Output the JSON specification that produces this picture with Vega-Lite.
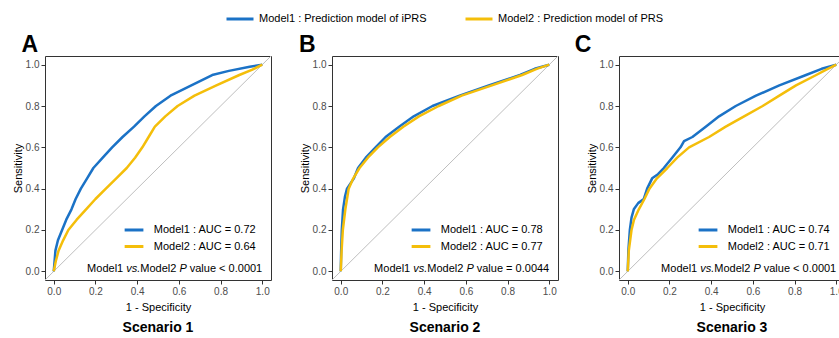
{
"$schema": "https://vega.github.io/schema/vega-lite/v6.json",
"padding": {"left": 11, "top": 4, "right": 5, "bottom": 5},
"data": {"values": [
{"kind":"panel","s":"Scenario 1","letter":"A","pv":"value < 0.0001"},
{"kind":"panel","s":"Scenario 2","letter":"B","pv":"value = 0.0044"},
{"kind":"panel","s":"Scenario 3","letter":"C","pv":"value < 0.0001"},
{"kind":"auc","s":"Scenario 1","m":"Model1","label":"Model1 : AUC = 0.72"},
{"kind":"auc","s":"Scenario 1","m":"Model2","label":"Model2 : AUC = 0.64"},
{"kind":"auc","s":"Scenario 2","m":"Model1","label":"Model1 : AUC = 0.78"},
{"kind":"auc","s":"Scenario 2","m":"Model2","label":"Model2 : AUC = 0.77"},
{"kind":"auc","s":"Scenario 3","m":"Model1","label":"Model1 : AUC = 0.74"},
{"kind":"auc","s":"Scenario 3","m":"Model2","label":"Model2 : AUC = 0.71"},
{"kind":"roc","s":"Scenario 1","m":"Model1","x":0,"y":0},
{"kind":"roc","s":"Scenario 1","m":"Model1","x":0.004,"y":0.05},
{"kind":"roc","s":"Scenario 1","m":"Model1","x":0.008,"y":0.1},
{"kind":"roc","s":"Scenario 1","m":"Model1","x":0.02,"y":0.15},
{"kind":"roc","s":"Scenario 1","m":"Model1","x":0.04,"y":0.2},
{"kind":"roc","s":"Scenario 1","m":"Model1","x":0.06,"y":0.25},
{"kind":"roc","s":"Scenario 1","m":"Model1","x":0.085,"y":0.3},
{"kind":"roc","s":"Scenario 1","m":"Model1","x":0.105,"y":0.35},
{"kind":"roc","s":"Scenario 1","m":"Model1","x":0.13,"y":0.4},
{"kind":"roc","s":"Scenario 1","m":"Model1","x":0.16,"y":0.45},
{"kind":"roc","s":"Scenario 1","m":"Model1","x":0.19,"y":0.5},
{"kind":"roc","s":"Scenario 1","m":"Model1","x":0.235,"y":0.55},
{"kind":"roc","s":"Scenario 1","m":"Model1","x":0.28,"y":0.6},
{"kind":"roc","s":"Scenario 1","m":"Model1","x":0.33,"y":0.65},
{"kind":"roc","s":"Scenario 1","m":"Model1","x":0.385,"y":0.7},
{"kind":"roc","s":"Scenario 1","m":"Model1","x":0.435,"y":0.75},
{"kind":"roc","s":"Scenario 1","m":"Model1","x":0.49,"y":0.8},
{"kind":"roc","s":"Scenario 1","m":"Model1","x":0.56,"y":0.85},
{"kind":"roc","s":"Scenario 1","m":"Model1","x":0.66,"y":0.9},
{"kind":"roc","s":"Scenario 1","m":"Model1","x":0.76,"y":0.95},
{"kind":"roc","s":"Scenario 1","m":"Model1","x":0.84,"y":0.97},
{"kind":"roc","s":"Scenario 1","m":"Model1","x":0.94,"y":0.99},
{"kind":"roc","s":"Scenario 1","m":"Model1","x":1,"y":1},
{"kind":"roc","s":"Scenario 1","m":"Model2","x":0,"y":0},
{"kind":"roc","s":"Scenario 1","m":"Model2","x":0.01,"y":0.05},
{"kind":"roc","s":"Scenario 1","m":"Model2","x":0.023,"y":0.1},
{"kind":"roc","s":"Scenario 1","m":"Model2","x":0.045,"y":0.15},
{"kind":"roc","s":"Scenario 1","m":"Model2","x":0.07,"y":0.2},
{"kind":"roc","s":"Scenario 1","m":"Model2","x":0.11,"y":0.25},
{"kind":"roc","s":"Scenario 1","m":"Model2","x":0.155,"y":0.3},
{"kind":"roc","s":"Scenario 1","m":"Model2","x":0.2,"y":0.35},
{"kind":"roc","s":"Scenario 1","m":"Model2","x":0.25,"y":0.4},
{"kind":"roc","s":"Scenario 1","m":"Model2","x":0.3,"y":0.45},
{"kind":"roc","s":"Scenario 1","m":"Model2","x":0.35,"y":0.5},
{"kind":"roc","s":"Scenario 1","m":"Model2","x":0.39,"y":0.55},
{"kind":"roc","s":"Scenario 1","m":"Model2","x":0.425,"y":0.6},
{"kind":"roc","s":"Scenario 1","m":"Model2","x":0.455,"y":0.65},
{"kind":"roc","s":"Scenario 1","m":"Model2","x":0.485,"y":0.7},
{"kind":"roc","s":"Scenario 1","m":"Model2","x":0.535,"y":0.75},
{"kind":"roc","s":"Scenario 1","m":"Model2","x":0.594,"y":0.8},
{"kind":"roc","s":"Scenario 1","m":"Model2","x":0.675,"y":0.85},
{"kind":"roc","s":"Scenario 1","m":"Model2","x":0.78,"y":0.9},
{"kind":"roc","s":"Scenario 1","m":"Model2","x":0.89,"y":0.95},
{"kind":"roc","s":"Scenario 1","m":"Model2","x":0.95,"y":0.975},
{"kind":"roc","s":"Scenario 1","m":"Model2","x":1,"y":1},
{"kind":"roc","s":"Scenario 2","m":"Model1","x":0,"y":0},
{"kind":"roc","s":"Scenario 2","m":"Model1","x":0.002,"y":0.1},
{"kind":"roc","s":"Scenario 2","m":"Model1","x":0.005,"y":0.2},
{"kind":"roc","s":"Scenario 2","m":"Model1","x":0.011,"y":0.3},
{"kind":"roc","s":"Scenario 2","m":"Model1","x":0.02,"y":0.36},
{"kind":"roc","s":"Scenario 2","m":"Model1","x":0.03,"y":0.4},
{"kind":"roc","s":"Scenario 2","m":"Model1","x":0.063,"y":0.45},
{"kind":"roc","s":"Scenario 2","m":"Model1","x":0.083,"y":0.5},
{"kind":"roc","s":"Scenario 2","m":"Model1","x":0.12,"y":0.55},
{"kind":"roc","s":"Scenario 2","m":"Model1","x":0.167,"y":0.6},
{"kind":"roc","s":"Scenario 2","m":"Model1","x":0.215,"y":0.65},
{"kind":"roc","s":"Scenario 2","m":"Model1","x":0.28,"y":0.7},
{"kind":"roc","s":"Scenario 2","m":"Model1","x":0.35,"y":0.75},
{"kind":"roc","s":"Scenario 2","m":"Model1","x":0.44,"y":0.8},
{"kind":"roc","s":"Scenario 2","m":"Model1","x":0.57,"y":0.85},
{"kind":"roc","s":"Scenario 2","m":"Model1","x":0.71,"y":0.9},
{"kind":"roc","s":"Scenario 2","m":"Model1","x":0.86,"y":0.95},
{"kind":"roc","s":"Scenario 2","m":"Model1","x":0.93,"y":0.98},
{"kind":"roc","s":"Scenario 2","m":"Model1","x":1,"y":1},
{"kind":"roc","s":"Scenario 2","m":"Model2","x":0,"y":0},
{"kind":"roc","s":"Scenario 2","m":"Model2","x":0.004,"y":0.1},
{"kind":"roc","s":"Scenario 2","m":"Model2","x":0.01,"y":0.2},
{"kind":"roc","s":"Scenario 2","m":"Model2","x":0.022,"y":0.3},
{"kind":"roc","s":"Scenario 2","m":"Model2","x":0.03,"y":0.35},
{"kind":"roc","s":"Scenario 2","m":"Model2","x":0.038,"y":0.4},
{"kind":"roc","s":"Scenario 2","m":"Model2","x":0.06,"y":0.45},
{"kind":"roc","s":"Scenario 2","m":"Model2","x":0.09,"y":0.5},
{"kind":"roc","s":"Scenario 2","m":"Model2","x":0.13,"y":0.55},
{"kind":"roc","s":"Scenario 2","m":"Model2","x":0.178,"y":0.6},
{"kind":"roc","s":"Scenario 2","m":"Model2","x":0.235,"y":0.65},
{"kind":"roc","s":"Scenario 2","m":"Model2","x":0.3,"y":0.7},
{"kind":"roc","s":"Scenario 2","m":"Model2","x":0.375,"y":0.75},
{"kind":"roc","s":"Scenario 2","m":"Model2","x":0.47,"y":0.8},
{"kind":"roc","s":"Scenario 2","m":"Model2","x":0.58,"y":0.85},
{"kind":"roc","s":"Scenario 2","m":"Model2","x":0.725,"y":0.9},
{"kind":"roc","s":"Scenario 2","m":"Model2","x":0.87,"y":0.95},
{"kind":"roc","s":"Scenario 2","m":"Model2","x":0.94,"y":0.98},
{"kind":"roc","s":"Scenario 2","m":"Model2","x":1,"y":1},
{"kind":"roc","s":"Scenario 3","m":"Model1","x":0,"y":0},
{"kind":"roc","s":"Scenario 3","m":"Model1","x":0.003,"y":0.1},
{"kind":"roc","s":"Scenario 3","m":"Model1","x":0.01,"y":0.2},
{"kind":"roc","s":"Scenario 3","m":"Model1","x":0.018,"y":0.26},
{"kind":"roc","s":"Scenario 3","m":"Model1","x":0.029,"y":0.3},
{"kind":"roc","s":"Scenario 3","m":"Model1","x":0.05,"y":0.33},
{"kind":"roc","s":"Scenario 3","m":"Model1","x":0.077,"y":0.35},
{"kind":"roc","s":"Scenario 3","m":"Model1","x":0.093,"y":0.4},
{"kind":"roc","s":"Scenario 3","m":"Model1","x":0.117,"y":0.45},
{"kind":"roc","s":"Scenario 3","m":"Model1","x":0.145,"y":0.47},
{"kind":"roc","s":"Scenario 3","m":"Model1","x":0.173,"y":0.5},
{"kind":"roc","s":"Scenario 3","m":"Model1","x":0.213,"y":0.55},
{"kind":"roc","s":"Scenario 3","m":"Model1","x":0.253,"y":0.6},
{"kind":"roc","s":"Scenario 3","m":"Model1","x":0.27,"y":0.63},
{"kind":"roc","s":"Scenario 3","m":"Model1","x":0.31,"y":0.65},
{"kind":"roc","s":"Scenario 3","m":"Model1","x":0.374,"y":0.7},
{"kind":"roc","s":"Scenario 3","m":"Model1","x":0.438,"y":0.75},
{"kind":"roc","s":"Scenario 3","m":"Model1","x":0.518,"y":0.8},
{"kind":"roc","s":"Scenario 3","m":"Model1","x":0.615,"y":0.85},
{"kind":"roc","s":"Scenario 3","m":"Model1","x":0.727,"y":0.9},
{"kind":"roc","s":"Scenario 3","m":"Model1","x":0.855,"y":0.95},
{"kind":"roc","s":"Scenario 3","m":"Model1","x":0.93,"y":0.98},
{"kind":"roc","s":"Scenario 3","m":"Model1","x":1,"y":1},
{"kind":"roc","s":"Scenario 3","m":"Model2","x":0,"y":0},
{"kind":"roc","s":"Scenario 3","m":"Model2","x":0.005,"y":0.1},
{"kind":"roc","s":"Scenario 3","m":"Model2","x":0.018,"y":0.2},
{"kind":"roc","s":"Scenario 3","m":"Model2","x":0.03,"y":0.25},
{"kind":"roc","s":"Scenario 3","m":"Model2","x":0.053,"y":0.3},
{"kind":"roc","s":"Scenario 3","m":"Model2","x":0.08,"y":0.35},
{"kind":"roc","s":"Scenario 3","m":"Model2","x":0.104,"y":0.4},
{"kind":"roc","s":"Scenario 3","m":"Model2","x":0.14,"y":0.45},
{"kind":"roc","s":"Scenario 3","m":"Model2","x":0.19,"y":0.5},
{"kind":"roc","s":"Scenario 3","m":"Model2","x":0.237,"y":0.55},
{"kind":"roc","s":"Scenario 3","m":"Model2","x":0.294,"y":0.6},
{"kind":"roc","s":"Scenario 3","m":"Model2","x":0.39,"y":0.65},
{"kind":"roc","s":"Scenario 3","m":"Model2","x":0.47,"y":0.7},
{"kind":"roc","s":"Scenario 3","m":"Model2","x":0.558,"y":0.75},
{"kind":"roc","s":"Scenario 3","m":"Model2","x":0.647,"y":0.8},
{"kind":"roc","s":"Scenario 3","m":"Model2","x":0.727,"y":0.85},
{"kind":"roc","s":"Scenario 3","m":"Model2","x":0.807,"y":0.9},
{"kind":"roc","s":"Scenario 3","m":"Model2","x":0.904,"y":0.95},
{"kind":"roc","s":"Scenario 3","m":"Model2","x":0.95,"y":0.975},
{"kind":"roc","s":"Scenario 3","m":"Model2","x":1,"y":1}
]},
"facet": {"column": {"field": "s", "type": "nominal", "header": {"title": null, "labelOrient": "bottom", "labelFontSize": 14, "labelFontWeight": "bold", "labelFont": "Liberation Sans", "labelColor": "#000000", "labelPadding": 41}}},
"spacing": 61,
"bounds": "flush",
"resolve": {"axis": {"y": "independent", "x": "independent"}},
"spec": {
 "width": 226,
 "height": 224,
 "layer": [
  {"transform": [{"filter": "datum.kind === 'panel'"}],
   "mark": {"type": "rule", "color": "#BEBEBE", "strokeWidth": 1},
   "encoding": {
    "x": {"datum": -0.042, "type": "quantitative", "scale": {"domain": [-0.042, 1.042], "nice": false, "zero": false}, "axis": {"title": "1 - Specificity", "values": [0, 0.2, 0.4, 0.6, 0.8, 1], "format": ".1f", "titlePadding": 5}},
    "y": {"datum": -0.042, "type": "quantitative", "scale": {"domain": [-0.042, 1.042], "nice": false, "zero": false}, "axis": {"title": "Sensitivity", "values": [0, 0.2, 0.4, 0.6, 0.8, 1], "format": ".1f", "titlePadding": 2}},
    "x2": {"datum": 1.042},
    "y2": {"datum": 1.042}
   }},
  {"transform": [{"filter": "datum.kind === 'roc'"}],
   "mark": {"type": "line", "strokeWidth": 2.5, "strokeJoin": "round"},
   "encoding": {
    "x": {"field": "x", "type": "quantitative", "title": "1 - Specificity"},
    "y": {"field": "y", "type": "quantitative", "title": "Sensitivity"},
    "color": {"field": "m", "type": "nominal", "scale": {"domain": ["Model1", "Model2"], "range": ["#1B72C6", "#F4BE0A"]},
     "legend": {"title": null, "orient": "none", "direction": "horizontal", "legendX": 180, "legendY": -52, "symbolType": "stroke", "symbolStrokeWidth": 3, "symbolSize": 729, "labelFontSize": 11, "labelColor": "#000000", "labelOffset": 4, "labelLimit": 0, "columnPadding": 32,
      "labelExpr": "datum.label === 'Model1' ? 'Model1 : Prediction model of iPRS' : 'Model2 : Prediction model of PRS'"}}
   }},
  {"transform": [{"filter": "datum.kind === 'auc' && datum.m === 'Model1'"}],
   "mark": {"type": "rule", "strokeWidth": 3},
   "encoding": {"x": {"datum": 0.34, "type": "quantitative"}, "x2": {"datum": 0.43}, "y": {"datum": 0.2, "type": "quantitative"}, "color": {"field": "m", "type": "nominal"}}},
  {"transform": [{"filter": "datum.kind === 'auc' && datum.m === 'Model2'"}],
   "mark": {"type": "rule", "strokeWidth": 3},
   "encoding": {"x": {"datum": 0.34, "type": "quantitative"}, "x2": {"datum": 0.43}, "y": {"datum": 0.12, "type": "quantitative"}, "color": {"field": "m", "type": "nominal"}}},
  {"transform": [{"filter": "datum.kind === 'auc' && datum.m === 'Model1'"}],
   "mark": {"type": "text", "align": "left", "baseline": "middle", "fontSize": 11, "color": "#000000"},
   "encoding": {"x": {"datum": 0.48, "type": "quantitative"}, "y": {"datum": 0.2, "type": "quantitative"}, "text": {"field": "label"}}},
  {"transform": [{"filter": "datum.kind === 'auc' && datum.m === 'Model2'"}],
   "mark": {"type": "text", "align": "left", "baseline": "middle", "fontSize": 11, "color": "#000000"},
   "encoding": {"x": {"datum": 0.48, "type": "quantitative"}, "y": {"datum": 0.12, "type": "quantitative"}, "text": {"field": "label"}}},
  {"transform": [{"filter": "datum.kind === 'panel'"}],
   "mark": {"type": "text", "align": "left", "baseline": "middle", "fontSize": 11, "color": "#000000"},
   "encoding": {"x": {"datum": 0.16, "type": "quantitative"}, "y": {"datum": 0.012, "type": "quantitative"}, "text": {"datum": "Model1"}}},
  {"transform": [{"filter": "datum.kind === 'panel'"}],
   "mark": {"type": "text", "align": "left", "baseline": "middle", "fontSize": 11, "fontStyle": "italic", "color": "#000000"},
   "encoding": {"x": {"datum": 0.3475, "type": "quantitative"}, "y": {"datum": 0.012, "type": "quantitative"}, "text": {"datum": "vs."}}},
  {"transform": [{"filter": "datum.kind === 'panel'"}],
   "mark": {"type": "text", "align": "left", "baseline": "middle", "fontSize": 11, "color": "#000000"},
   "encoding": {"x": {"datum": 0.4151, "type": "quantitative"}, "y": {"datum": 0.012, "type": "quantitative"}, "text": {"datum": "Model2"}}},
  {"transform": [{"filter": "datum.kind === 'panel'"}],
   "mark": {"type": "text", "align": "left", "baseline": "middle", "fontSize": 11, "fontStyle": "italic", "color": "#000000"},
   "encoding": {"x": {"datum": 0.6026, "type": "quantitative"}, "y": {"datum": 0.012, "type": "quantitative"}, "text": {"datum": "P"}}},
  {"transform": [{"filter": "datum.kind === 'panel'"}],
   "mark": {"type": "text", "align": "left", "baseline": "middle", "fontSize": 11, "color": "#000000"},
   "encoding": {"x": {"datum": 0.6523, "type": "quantitative"}, "y": {"datum": 0.012, "type": "quantitative"}, "text": {"field": "pv"}}},
  {"transform": [{"filter": "datum.kind === 'panel' && datum.letter === 'A'"}],
   "mark": {"type": "text", "align": "left", "baseline": "middle", "fontSize": 23, "fontWeight": "bold", "color": "#000000"},
   "encoding": {"x": {"datum": -0.155, "type": "quantitative"}, "y": {"datum": 1.095, "type": "quantitative"}, "text": {"field": "letter"}}},
  {"transform": [{"filter": "datum.kind === 'panel' && datum.letter === 'B'"}],
   "mark": {"type": "text", "align": "left", "baseline": "middle", "fontSize": 23, "fontWeight": "bold", "color": "#000000"},
   "encoding": {"x": {"datum": -0.2, "type": "quantitative"}, "y": {"datum": 1.095, "type": "quantitative"}, "text": {"field": "letter"}}},
  {"transform": [{"filter": "datum.kind === 'panel' && datum.letter === 'C'"}],
   "mark": {"type": "text", "align": "left", "baseline": "middle", "fontSize": 23, "fontWeight": "bold", "color": "#000000"},
   "encoding": {"x": {"datum": -0.254, "type": "quantitative"}, "y": {"datum": 1.095, "type": "quantitative"}, "text": {"field": "letter"}}}
 ]
},
"config": {
 "font": "Liberation Sans",
 "view": {"stroke": "#333333", "strokeWidth": 1},
 "axis": {"domain": false, "grid": false, "ticks": true, "tickSize": 4, "tickColor": "#333333", "labelFontSize": 10, "labelColor": "#4D4D4D", "labelPadding": 2, "titleFontSize": 11, "titleFontWeight": "normal", "titleColor": "#000000", "labelFont": "Liberation Sans", "titleFont": "Liberation Sans"},
 "legend": {"labelFont": "Liberation Sans"}
}
}
